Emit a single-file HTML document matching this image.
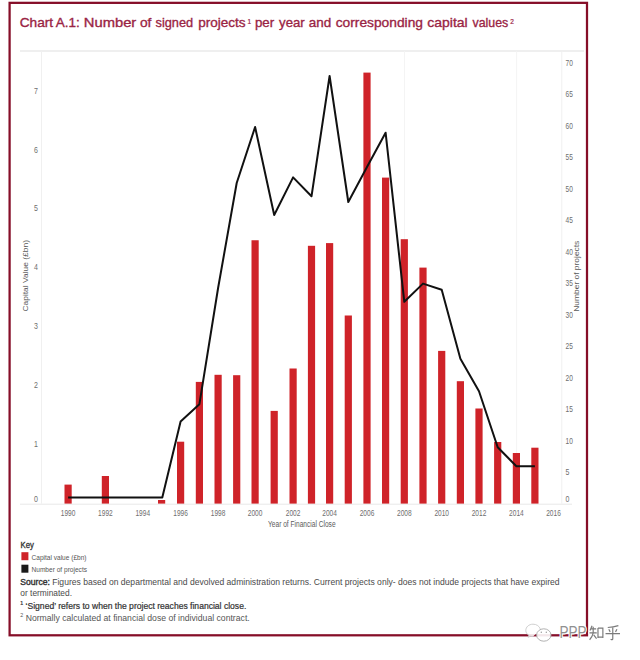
<!DOCTYPE html><html><head><meta charset="utf-8"><style>html,body{margin:0;padding:0;background:#fff;}svg{display:block;}text{font-family:"Liberation Sans",sans-serif;}</style></head><body>
<svg width="640" height="660" viewBox="0 0 640 660">
<rect x="0" y="0" width="640" height="660" fill="#fff"/>
<rect x="9.6" y="2.85" width="577.4" height="632.45" fill="none" stroke="#860e28" stroke-width="2.25"/>
<text x="19.70" y="26.8" font-size="13.6" fill="#9a2444" stroke="#9a2444" stroke-width="0.35" textLength="33.50" lengthAdjust="spacingAndGlyphs">Chart</text>
<text x="55.70" y="26.8" font-size="13.6" fill="#9a2444" stroke="#9a2444" stroke-width="0.35" textLength="24.00" lengthAdjust="spacingAndGlyphs">A.1:</text>
<text x="83.80" y="26.8" font-size="13.6" fill="#9a2444" stroke="#9a2444" stroke-width="0.35" textLength="52.50" lengthAdjust="spacingAndGlyphs">Number</text>
<text x="139.90" y="26.8" font-size="13.6" fill="#9a2444" stroke="#9a2444" stroke-width="0.35" textLength="11.50" lengthAdjust="spacingAndGlyphs">of</text>
<text x="155.50" y="26.8" font-size="13.6" fill="#9a2444" stroke="#9a2444" stroke-width="0.35" textLength="37.60" lengthAdjust="spacingAndGlyphs">signed</text>
<text x="198.15" y="26.8" font-size="13.6" fill="#9a2444" stroke="#9a2444" stroke-width="0.35" textLength="47.45" lengthAdjust="spacingAndGlyphs">projects</text>
<text x="254.90" y="26.8" font-size="13.6" fill="#9a2444" stroke="#9a2444" stroke-width="0.35" textLength="19.30" lengthAdjust="spacingAndGlyphs">per</text>
<text x="279.10" y="26.8" font-size="13.6" fill="#9a2444" stroke="#9a2444" stroke-width="0.35" textLength="25.60" lengthAdjust="spacingAndGlyphs">year</text>
<text x="308.80" y="26.8" font-size="13.6" fill="#9a2444" stroke="#9a2444" stroke-width="0.35" textLength="22.45" lengthAdjust="spacingAndGlyphs">and</text>
<text x="335.65" y="26.8" font-size="13.6" fill="#9a2444" stroke="#9a2444" stroke-width="0.35" textLength="87.35" lengthAdjust="spacingAndGlyphs">corresponding</text>
<text x="427.20" y="26.8" font-size="13.6" fill="#9a2444" stroke="#9a2444" stroke-width="0.35" textLength="40.50" lengthAdjust="spacingAndGlyphs">capital</text>
<text x="472.50" y="26.8" font-size="13.6" fill="#9a2444" stroke="#9a2444" stroke-width="0.35" textLength="35.80" lengthAdjust="spacingAndGlyphs">values</text>
<text x="247.6" y="24.2" font-size="6.5" fill="#9a2444" stroke="#9a2444" stroke-width="0.2">1</text>
<text x="510.2" y="24.2" font-size="6.5" fill="#9a2444" stroke="#9a2444" stroke-width="0.2">2</text>
<rect x="20" y="50.4" width="564" height="1.2" fill="#e4e4e4"/>
<rect x="41" y="51" width="1" height="452.6" fill="#f0f0f0"/>
<rect x="561.3" y="51" width="1" height="452.6" fill="#f0f0f0"/>
<rect x="20" y="503.7" width="552" height="1" fill="#e8e8e8"/>
<rect x="404" y="51" width="0.9" height="452.6" fill="#f3f3f3"/>
<rect x="516.2" y="51" width="0.9" height="452.6" fill="#f3f3f3"/>
<rect x="64.50" y="484.60" width="7.2" height="19.00" fill="#cf2329"/>
<rect x="101.80" y="476.00" width="7.2" height="27.60" fill="#cf2329"/>
<rect x="158.00" y="500.00" width="7.2" height="3.60" fill="#cf2329"/>
<rect x="177.00" y="441.70" width="7.2" height="61.90" fill="#cf2329"/>
<rect x="195.80" y="381.90" width="7.2" height="121.70" fill="#cf2329"/>
<rect x="214.50" y="374.80" width="7.2" height="128.80" fill="#cf2329"/>
<rect x="233.10" y="375.20" width="7.2" height="128.40" fill="#cf2329"/>
<rect x="251.50" y="240.25" width="7.2" height="263.35" fill="#cf2329"/>
<rect x="270.60" y="410.90" width="7.2" height="92.70" fill="#cf2329"/>
<rect x="289.50" y="368.50" width="7.2" height="135.10" fill="#cf2329"/>
<rect x="307.90" y="245.80" width="7.2" height="257.80" fill="#cf2329"/>
<rect x="326.00" y="243.10" width="7.2" height="260.50" fill="#cf2329"/>
<rect x="344.70" y="315.50" width="7.2" height="188.10" fill="#cf2329"/>
<rect x="363.40" y="72.60" width="7.2" height="431.00" fill="#cf2329"/>
<rect x="382.00" y="177.60" width="7.2" height="326.00" fill="#cf2329"/>
<rect x="400.70" y="239.20" width="7.2" height="264.40" fill="#cf2329"/>
<rect x="419.40" y="267.60" width="7.2" height="236.00" fill="#cf2329"/>
<rect x="438.10" y="350.90" width="7.2" height="152.70" fill="#cf2329"/>
<rect x="456.80" y="381.20" width="7.2" height="122.40" fill="#cf2329"/>
<rect x="475.40" y="408.50" width="7.2" height="95.10" fill="#cf2329"/>
<rect x="494.10" y="442.00" width="7.2" height="61.60" fill="#cf2329"/>
<rect x="512.80" y="453.00" width="7.2" height="50.60" fill="#cf2329"/>
<rect x="531.30" y="447.70" width="7.2" height="55.90" fill="#cf2329"/>
<polyline points="68.10,497.60 86.77,497.60 105.40,497.60 124.11,497.60 142.78,497.60 162.30,497.60 180.60,421.40 199.40,404.20 218.10,288.00 236.70,183.00 255.10,127.00 274.20,215.00 293.10,177.40 311.50,196.30 329.60,76.00 348.30,202.00 367.00,167.00 385.60,132.70 404.30,301.80 423.00,283.60 441.70,289.70 460.40,358.80 479.00,391.20 497.70,447.30 516.40,466.20 534.90,466.20" fill="none" stroke="#111" stroke-width="2.0" stroke-linejoin="round"/>
<text x="33.9" y="502.0" font-size="9.3" fill="#6e6e6e" textLength="3.9" lengthAdjust="spacingAndGlyphs">0</text>
<text x="33.9" y="447.0" font-size="9.3" fill="#6e6e6e" textLength="3.9" lengthAdjust="spacingAndGlyphs">1</text>
<text x="33.9" y="388.1" font-size="9.3" fill="#6e6e6e" textLength="3.9" lengthAdjust="spacingAndGlyphs">2</text>
<text x="33.9" y="329.2" font-size="9.3" fill="#6e6e6e" textLength="3.9" lengthAdjust="spacingAndGlyphs">3</text>
<text x="33.9" y="270.3" font-size="9.3" fill="#6e6e6e" textLength="3.9" lengthAdjust="spacingAndGlyphs">4</text>
<text x="33.9" y="211.4" font-size="9.3" fill="#6e6e6e" textLength="3.9" lengthAdjust="spacingAndGlyphs">5</text>
<text x="33.9" y="152.5" font-size="9.3" fill="#6e6e6e" textLength="3.9" lengthAdjust="spacingAndGlyphs">6</text>
<text x="33.9" y="93.6" font-size="9.3" fill="#6e6e6e" textLength="3.9" lengthAdjust="spacingAndGlyphs">7</text>
<text x="565.6" y="502.0" font-size="9.3" fill="#6e6e6e" textLength="3.9" lengthAdjust="spacingAndGlyphs">0</text>
<text x="565.6" y="475.4" font-size="9.3" fill="#6e6e6e" textLength="3.9" lengthAdjust="spacingAndGlyphs">5</text>
<text x="565.6" y="443.9" font-size="9.3" fill="#6e6e6e" textLength="7.3" lengthAdjust="spacingAndGlyphs">10</text>
<text x="565.6" y="412.4" font-size="9.3" fill="#6e6e6e" textLength="7.3" lengthAdjust="spacingAndGlyphs">15</text>
<text x="565.6" y="380.9" font-size="9.3" fill="#6e6e6e" textLength="7.3" lengthAdjust="spacingAndGlyphs">20</text>
<text x="565.6" y="349.4" font-size="9.3" fill="#6e6e6e" textLength="7.3" lengthAdjust="spacingAndGlyphs">25</text>
<text x="565.6" y="317.9" font-size="9.3" fill="#6e6e6e" textLength="7.3" lengthAdjust="spacingAndGlyphs">30</text>
<text x="565.6" y="286.4" font-size="9.3" fill="#6e6e6e" textLength="7.3" lengthAdjust="spacingAndGlyphs">35</text>
<text x="565.6" y="254.9" font-size="9.3" fill="#6e6e6e" textLength="7.3" lengthAdjust="spacingAndGlyphs">40</text>
<text x="565.6" y="223.4" font-size="9.3" fill="#6e6e6e" textLength="7.3" lengthAdjust="spacingAndGlyphs">45</text>
<text x="565.6" y="191.9" font-size="9.3" fill="#6e6e6e" textLength="7.3" lengthAdjust="spacingAndGlyphs">50</text>
<text x="565.6" y="160.4" font-size="9.3" fill="#6e6e6e" textLength="7.3" lengthAdjust="spacingAndGlyphs">55</text>
<text x="565.6" y="128.9" font-size="9.3" fill="#6e6e6e" textLength="7.3" lengthAdjust="spacingAndGlyphs">60</text>
<text x="565.6" y="97.4" font-size="9.3" fill="#6e6e6e" textLength="7.3" lengthAdjust="spacingAndGlyphs">65</text>
<text x="565.6" y="65.9" font-size="9.3" fill="#6e6e6e" textLength="7.3" lengthAdjust="spacingAndGlyphs">70</text>
<text x="68.10" y="515.5" font-size="8.2" fill="#6e6e6e" text-anchor="middle" textLength="14.6" lengthAdjust="spacingAndGlyphs">1990</text>
<text x="105.40" y="515.5" font-size="8.2" fill="#6e6e6e" text-anchor="middle" textLength="14.6" lengthAdjust="spacingAndGlyphs">1992</text>
<text x="142.78" y="515.5" font-size="8.2" fill="#6e6e6e" text-anchor="middle" textLength="14.6" lengthAdjust="spacingAndGlyphs">1994</text>
<text x="180.60" y="515.5" font-size="8.2" fill="#6e6e6e" text-anchor="middle" textLength="14.6" lengthAdjust="spacingAndGlyphs">1996</text>
<text x="218.10" y="515.5" font-size="8.2" fill="#6e6e6e" text-anchor="middle" textLength="14.6" lengthAdjust="spacingAndGlyphs">1998</text>
<text x="255.10" y="515.5" font-size="8.2" fill="#6e6e6e" text-anchor="middle" textLength="14.6" lengthAdjust="spacingAndGlyphs">2000</text>
<text x="293.10" y="515.5" font-size="8.2" fill="#6e6e6e" text-anchor="middle" textLength="14.6" lengthAdjust="spacingAndGlyphs">2002</text>
<text x="329.60" y="515.5" font-size="8.2" fill="#6e6e6e" text-anchor="middle" textLength="14.6" lengthAdjust="spacingAndGlyphs">2004</text>
<text x="367.00" y="515.5" font-size="8.2" fill="#6e6e6e" text-anchor="middle" textLength="14.6" lengthAdjust="spacingAndGlyphs">2006</text>
<text x="404.30" y="515.5" font-size="8.2" fill="#6e6e6e" text-anchor="middle" textLength="14.6" lengthAdjust="spacingAndGlyphs">2008</text>
<text x="441.70" y="515.5" font-size="8.2" fill="#6e6e6e" text-anchor="middle" textLength="14.6" lengthAdjust="spacingAndGlyphs">2010</text>
<text x="479.00" y="515.5" font-size="8.2" fill="#6e6e6e" text-anchor="middle" textLength="14.6" lengthAdjust="spacingAndGlyphs">2012</text>
<text x="516.40" y="515.5" font-size="8.2" fill="#6e6e6e" text-anchor="middle" textLength="14.6" lengthAdjust="spacingAndGlyphs">2014</text>
<text x="553.52" y="515.5" font-size="8.2" fill="#6e6e6e" text-anchor="middle" textLength="14.6" lengthAdjust="spacingAndGlyphs">2016</text>
<text x="301.8" y="527.2" font-size="8.3" fill="#5a5a5a" text-anchor="middle" textLength="67.5" lengthAdjust="spacingAndGlyphs">Year of Financial Close</text>
<text transform="translate(27.8,275.8) rotate(-90)" font-size="8" fill="#5a5a5a" text-anchor="middle" textLength="71.5" lengthAdjust="spacingAndGlyphs">Capital Value (£bn)</text>
<text transform="translate(579.3,276.2) rotate(-90)" font-size="8" fill="#5a5a5a" text-anchor="middle" textLength="71" lengthAdjust="spacingAndGlyphs">Number of projects</text>
<text x="20.6" y="548.3" font-size="9.6" fill="#333" stroke="#333" stroke-width="0.35" textLength="13.3" lengthAdjust="spacingAndGlyphs">Key</text>
<rect x="21.4" y="552.2" width="7" height="8" fill="#cf2329"/>
<rect x="21.4" y="564.7" width="7" height="8" fill="#1a1a1a"/>
<text x="31.5" y="559.6" font-size="8" fill="#555" textLength="55" lengthAdjust="spacingAndGlyphs">Capital value (£bn)</text>
<text x="31.5" y="572.1" font-size="8" fill="#555" textLength="55.5" lengthAdjust="spacingAndGlyphs">Number of projects</text>
<text x="20.3" y="585" font-size="9" fill="#4a4a4a" textLength="539.3" lengthAdjust="spacingAndGlyphs"><tspan fill="#333" stroke="#333" stroke-width="0.4">Source:</tspan> Figures based on departmental and devolved administration returns. Current projects only- does not indude projects that have expired</text>
<text x="20.3" y="596.3" font-size="9" fill="#4a4a4a" textLength="51.7" lengthAdjust="spacingAndGlyphs">or terminated.</text>
<text x="20.3" y="608.8" font-size="9" fill="#333" stroke="#333" stroke-width="0.22" textLength="226" lengthAdjust="spacingAndGlyphs"><tspan font-size="5.5" dy="-4">1</tspan><tspan dy="4"> ‘Signed’ refers to when the project reaches financial close.</tspan></text>
<text x="20.3" y="620.8" font-size="9" fill="#555" textLength="229.4" lengthAdjust="spacingAndGlyphs"><tspan font-size="5.5" dy="-4">2</tspan><tspan dy="4"> Normally calculated at financial dose of individual contract.</tspan></text>
<g>
<path d="M540.5,629.5 C539.5,626 536.5,624.2 533,624.2 C528.8,624.2 525.8,627 525.8,630.5 C525.8,632.5 527,634.2 528.8,635.3 L528.2,637.3 L530.6,636.2 C531.4,636.5 532.2,636.6 533,636.6" fill="#fff" fill-opacity="0.85" stroke="#c4c4c4" stroke-width="0.8"/>
<ellipse cx="543.8" cy="635" rx="7.2" ry="6.2" fill="#fff" fill-opacity="0.9" stroke="#a8a8a8" stroke-width="0.9"/>
<circle cx="541.3" cy="632.2" r="0.7" fill="#999"/><circle cx="546.3" cy="632.2" r="0.7" fill="#999"/>
<text x="559.4" y="638" font-size="16.5" fill="#fff" stroke="#fff" stroke-width="2.4" textLength="27" lengthAdjust="spacingAndGlyphs">PPP</text>
<text x="559.4" y="638" font-size="16.5" fill="#909090" textLength="27" lengthAdjust="spacingAndGlyphs">PPP</text>
<g fill="none" stroke="#fff" stroke-width="2.6" stroke-linecap="round" opacity="0.9" transform="translate(589,625) scale(1.02,1.04)">
<path d="M3,0.8 L1,5.2 M1.6,3.8 L7,3.8 M0.5,7.6 L7.6,7.6 M4.1,1.6 L4.1,7.8 Q3.2,11.5 0.6,14.2 M4.6,9.4 L7.4,13.2 M8.8,3 L8.8,12.6 M8.8,3 L13.6,3 L13.6,12.6 M8.8,11.6 L13.6,11.6"/><path transform="translate(15.8,0)" d="M13,0.6 Q8,2 2.6,2.4 M3.6,4 L5,6.6 M11.6,4 L10.2,6.6 M0.4,8.2 L14.6,8.2 M7.5,2.6 L7.5,13.4 Q7.3,14.8 5.4,13.6"/>
</g>
<g fill="none" stroke="#7a7a7a" stroke-width="1.15" stroke-linecap="butt" transform="translate(589,625) scale(1.02,1.04)">
<path d="M3,0.8 L1,5.2 M1.6,3.8 L7,3.8 M0.5,7.6 L7.6,7.6 M4.1,1.6 L4.1,7.8 Q3.2,11.5 0.6,14.2 M4.6,9.4 L7.4,13.2 M8.8,3 L8.8,12.6 M8.8,3 L13.6,3 L13.6,12.6 M8.8,11.6 L13.6,11.6"/><path transform="translate(15.8,0)" d="M13,0.6 Q8,2 2.6,2.4 M3.6,4 L5,6.6 M11.6,4 L10.2,6.6 M0.4,8.2 L14.6,8.2 M7.5,2.6 L7.5,13.4 Q7.3,14.8 5.4,13.6"/>
</g></g>
</svg></body></html>
